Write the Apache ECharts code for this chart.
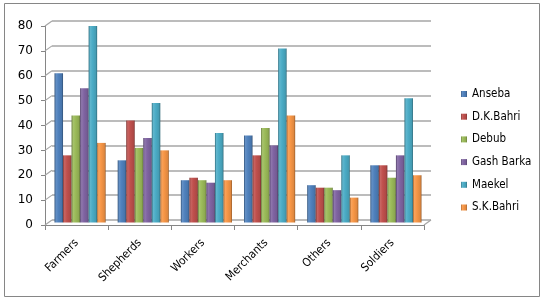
<!DOCTYPE html>
<html>
<head>
<meta charset="utf-8">
<script src="https://cdn.jsdelivr.net/npm/echarts@6/dist/echarts.min.js"></script>
<style>
  html, body { margin: 0; padding: 0; background: #fff; }
  #chart { width: 542px; height: 300px; }
</style>
</head>
<body>
<div id="chart"></div>
<script>
const categories = ["Farmers", "Shepherds", "Workers", "Merchants", "Others", "Soldiers"];
const regions = ["Anseba", "D.K.Bahri", "Debub", "Gash Barka", "Maekel", "S.K.Bahri"];
const anseba = [60, 25, 17, 35, 15, 23];
const dkBahri = [27, 41, 18, 27, 14, 23];
const debub = [43, 30, 17, 38, 14, 18];
const gashBarka = [54, 34, 16, 31, 13, 27];
const maekel = [79, 48, 36, 70, 27, 50];
const skBahri = [32, 29, 17, 43, 10, 19];
const yTicks = [0, 10, 20, 30, 40, 50, 60, 70, 80];

const seriesValues = [anseba, dkBahri, debub, gashBarka, maekel, skBahri];
const colors = ["#4F81BD", "#C0504D", "#9BBB59", "#8064A2", "#4BACC6", "#F79646"];
const FONT = "'DejaVu Sans Condensed', 'DejaVu Sans', sans-serif";
const NUM_FONT = "'DejaVu Sans', sans-serif";

// lighten / darken a hex colour
function shade(hex, f) {
  const n = parseInt(hex.slice(1), 16);
  let r = (n >> 16) & 255, g = (n >> 8) & 255, b = n & 255;
  const mix = (c) => f < 0 ? Math.round(c * (1 + f)) : Math.round(c + (255 - c) * f);
  return "rgb(" + mix(r) + "," + mix(g) + "," + mix(b) + ")";
}

function barFill(c) {
  return new echarts.graphic.LinearGradient(0, 0, 1, 0, [
    { offset: 0, color: shade(c, -0.35) },
    { offset: 0.18, color: shade(c, 0.12) },
    { offset: 0.45, color: c },
    { offset: 0.85, color: shade(c, -0.1) },
    { offset: 1, color: shade(c, -0.4) }
  ]);
}

const chart = echarts.init(document.getElementById("chart"));

const barSeries = regions.map((name, i) => ({
  name: name,
  type: "bar",
  xAxisIndex: 1,
  yAxisIndex: 1,
  data: seriesValues[i],
  barGap: "0%",
  barCategoryGap: "19%",
  itemStyle: { color: barFill(colors[i]) },
  emphasis: { disabled: true },
  z: 5
}));

const option = {
  animation: false,
  color: colors,
  textStyle: { fontFamily: FONT },
  graphic: [
    {
      type: "rect",
      shape: { x: 4.5, y: 3.5, width: 535, height: 293 },
      style: { fill: "none", stroke: "#868686", lineWidth: 1 },
      silent: true
    }
  ],
  legend: {
    orient: "vertical",
    left: 456,
    top: 82,
    data: regions,
    icon: "rect",
    itemWidth: 6,
    itemHeight: 6,
    itemGap: 8.7,
    textStyle: { fontFamily: FONT, fontSize: 11.5, color: "#000", lineHeight: 14 }
  },
  grid: [
    // back wall (gridlines)
    { left: 52, right: 111, top: 21, bottom: 80 },
    // bars at mid depth
    { left: 48.5, right: 114.5, top: 23.5, bottom: 77.5 },
    // front axes
    { left: 45, right: 118, top: 26, bottom: 75 }
  ],
  xAxis: [
    { gridIndex: 0, type: "value", min: 0, max: 1, show: false },
    { gridIndex: 1, type: "category", data: categories, show: false },
    {
      gridIndex: 2,
      type: "category",
      data: categories,
      axisLine: { lineStyle: { color: "#868686", width: 1 } },
      axisTick: { show: true, length: 5, lineStyle: { color: "#868686" } },
      axisLabel: {
        rotate: 45,
        margin: 16,
        fontSize: 11.5,
        color: "#000",
        fontFamily: FONT
      }
    }
  ],
  yAxis: [
    {
      gridIndex: 0,
      type: "value",
      min: 0,
      max: 80,
      interval: 10,
      axisLine: { show: false },
      axisTick: { show: false },
      axisLabel: { show: false },
      splitLine: { show: true, lineStyle: { color: "#a6a6a6", width: 1.5 } }
    },
    { gridIndex: 1, type: "value", min: 0, max: 80, interval: 10, show: false },
    {
      gridIndex: 2,
      type: "value",
      min: 0,
      max: 80,
      interval: 10,
      axisLine: { show: true, lineStyle: { color: "#868686", width: 1 } },
      axisTick: { show: true, length: 4, lineStyle: { color: "#868686" } },
      splitLine: { show: false },
      axisLabel: { margin: 12, fontSize: 12, color: "#000", fontFamily: NUM_FONT }
    }
  ],
  series: [
    {
      // side wall / floor edges joining the front axis to the back wall
      type: "custom",
      xAxisIndex: 0,
      yAxisIndex: 0,
      silent: true,
      data: yTicks.map((v) => [0, v]),
      renderItem: function (params, api) {
        const p = api.coord([0, api.value(1)]);
        const children = [
          {
            type: "line",
            shape: { x1: p[0], y1: p[1], x2: p[0] - 7, y2: p[1] + 5 },
            style: { stroke: "#a6a6a6", lineWidth: 1.2 }
          }
        ];
        if (api.value(1) === 0) {
          const q = api.coord([1, 0]);
          children.push({
            type: "line",
            shape: { x1: q[0], y1: q[1], x2: q[0] - 7, y2: q[1] + 5 },
            style: { stroke: "#a6a6a6", lineWidth: 1.2 }
          });
        }
        return { type: "group", children: children };
      },
      z: 1
    }
  ].concat(barSeries)
};

chart.setOption(option);
</script>
</body>
</html>
